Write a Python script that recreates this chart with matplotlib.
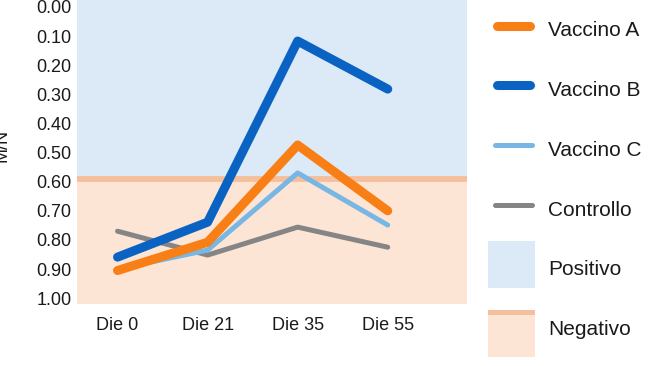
import matplotlib
matplotlib.use("Agg")
import matplotlib.pyplot as plt
from matplotlib.patches import Patch, Rectangle
from matplotlib.lines import Line2D
from matplotlib.legend_handler import HandlerBase

plt.rcParams['font.family'] = ['Liberation Sans', 'DejaVu Sans']

# data
giorni = ['Die 0', 'Die 21', 'Die 35', 'Die 55']
vaccino_a = [0.905, 0.808, 0.474, 0.700]
vaccino_b = [0.859, 0.739, 0.117, 0.282]
vaccino_c = [0.900, 0.835, 0.570, 0.749]
controllo = [0.770, 0.852, 0.756, 0.825]
soglia = 0.59

col_a = '#f77f16'
col_b = '#0a63c2'
col_c = '#78b6e4'
col_ctrl = '#858585'
col_pos = '#dceaf7'
col_neg = '#fde5d6'
col_soglia = '#f6bf9c'

BOX = 33.8  # legend square size in points


class HandlerBox(HandlerBase):
    # square legend box, optionally with the threshold stripe on top
    def __init__(self, stripe=False, shift=0):
        super().__init__()
        self.stripe = stripe
        self.shift = shift

    def create_artists(self, legend, orig_handle, xd, yd, width, height, fontsize, trans):
        cy = (height - yd) / 2 - self.shift
        x0, y0 = -xd, cy - BOX / 2
        arts = [Rectangle((x0, y0), BOX, BOX, facecolor=orig_handle.get_facecolor(),
                          edgecolor='none', transform=trans)]
        if self.stripe:
            arts.append(Rectangle((x0, y0 + BOX * 0.89), BOX, BOX * 0.11,
                                  facecolor=col_soglia, edgecolor='none', transform=trans))
        return arts


class HandlerShortLine(HandlerBase):
    # legend line a bit shorter than the box, so round caps stay inside
    def create_artists(self, legend, orig_handle, xd, yd, width, height, fontsize, trans):
        cy = (height - yd) / 2
        lw = orig_handle.get_linewidth()
        ln = Line2D([-xd + 3 + lw / 2, -xd + width - lw / 2], [cy, cy],
                    color=orig_handle.get_color(), lw=lw, solid_capstyle='round',
                    transform=trans)
        return [ln]


fig = plt.figure(figsize=(6.5, 3.66), dpi=100)
ax = fig.add_axes([77 / 650, 1 - 304 / 366, 390 / 650, 304 / 366])

x = range(len(giorni))
ymin, ymax = -0.024, 1.02
ax.axhspan(ymin, soglia, color=col_pos, lw=0, zorder=0)
ax.axhspan(soglia, ymax, color=col_neg, lw=0, zorder=0)
ax.axhline(soglia, color=col_soglia, lw=4.2, zorder=1)

ax.plot(x, controllo, color=col_ctrl, lw=3.6, solid_capstyle='round', zorder=2)
ax.plot(x, vaccino_c, color=col_c, lw=3.6, solid_capstyle='round', zorder=3)
ax.plot(x, vaccino_a, color=col_a, lw=6.5, solid_capstyle='round', zorder=4)
ax.plot(x, vaccino_b, color=col_b, lw=6.5, solid_capstyle='round', zorder=5)

ax.set_ylim(ymax, ymin)
ax.set_xlim(-0.45, 3.88)
ax.set_yticks([i / 10 for i in range(11)])
ax.set_yticklabels(['%.2f' % (i / 10) for i in range(11)])
ax.set_xticks(list(x))
ax.set_xticklabels(giorni)
ax.tick_params(length=0, labelsize=13, colors='#1a1a1a')
ax.tick_params(axis='x', pad=9)
ax.tick_params(axis='y', pad=4)
for s in ax.spines.values():
    s.set_visible(False)
ax.set_ylabel('M/N', fontsize=13, color='#1a1a1a')
ax.yaxis.set_label_coords(-0.17, 0.52)

handles = [
    Line2D([], [], color=col_a, lw=6.5),
    Line2D([], [], color=col_b, lw=6.5),
    Line2D([], [], color=col_c, lw=3.6),
    Line2D([], [], color=col_ctrl, lw=3.6),
    Patch(facecolor=col_pos, edgecolor='none'),
    Patch(facecolor=col_neg, edgecolor='none'),
]
labels = ['Vaccino A', 'Vaccino B', 'Vaccino C', 'Controllo', 'Positivo', 'Negativo']
hmap = {h: HandlerShortLine() for h in handles[:4]}
hmap[handles[4]] = HandlerBox()
hmap[handles[5]] = HandlerBox(stripe=True, shift=6.5)
leg = fig.legend(handles, labels, loc='upper left', bbox_to_anchor=(488 / 650, 1 - 15 / 366),
                 frameon=False, fontsize=15, handlelength=2.25, handleheight=1.8,
                 labelspacing=1.45, handletextpad=0.65, borderaxespad=0, borderpad=0,
                 handler_map=hmap)
for t in leg.get_texts():
    t.set_color('#1a1a1a')

fig.savefig('out.png', dpi=100)
